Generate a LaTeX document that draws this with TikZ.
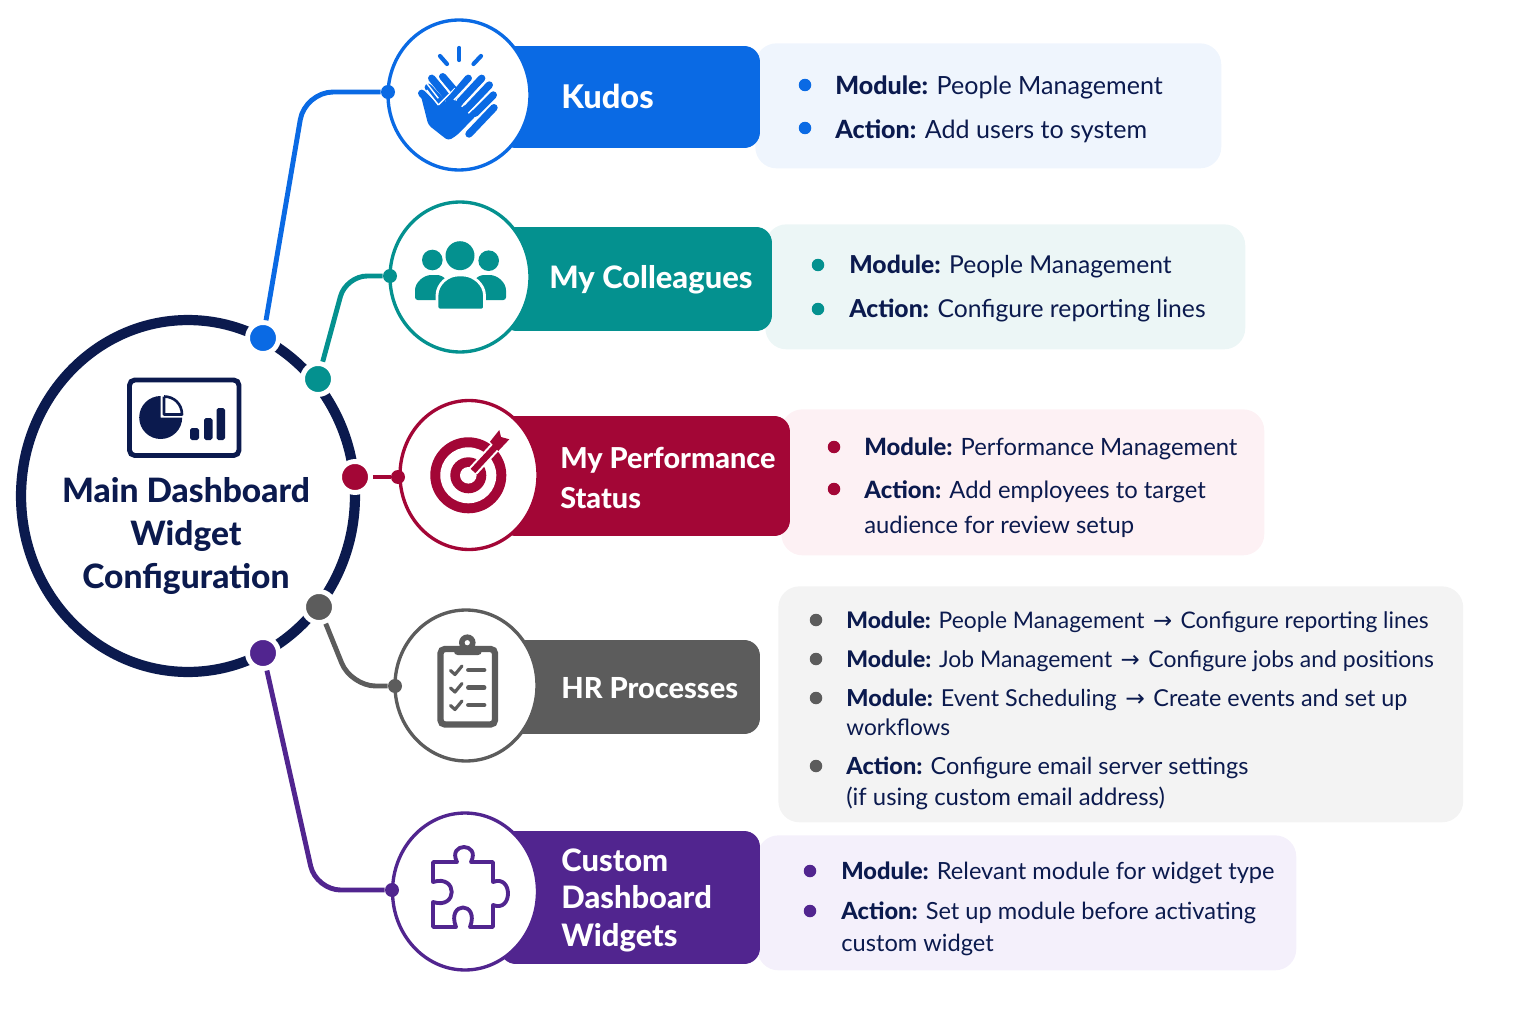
\documentclass[tikz,border=0pt]{standalone}
\usepackage{fontspec}
\setmainfont{Lato}[BoldFont={Lato Heavy}]
\newfontfamily\arrowfont{DejaVu Sans}
\usepackage{tikz}
\definecolor{hubnavy}{HTML}{0B1A4E}
\definecolor{kudosblue}{HTML}{0A6AE4}
\definecolor{colleagueteal}{HTML}{04918F}
\definecolor{perfcrimson}{HTML}{A30636}
\definecolor{hrgray}{HTML}{5C5C5C}
\definecolor{widgetpurple}{HTML}{51258F}
\definecolor{kudospanel}{HTML}{EFF5FD}
\definecolor{colleaguepanel}{HTML}{ECF6F6}
\definecolor{perfpanel}{HTML}{FDF1F4}
\definecolor{hrpanel}{HTML}{F3F3F3}
\definecolor{widgetpanel}{HTML}{F4F0FB}
\usetikzlibrary{shapes.geometric}
\newcommand{\rowarrow}{\hspace{1.5pt}{\arrowfont →}\hspace{1.5pt}}
\tikzset{
    hubring/.style={ellipse, draw=hubnavy, fill=white, line width=5.8pt, minimum width=6.68cm, minimum height=7.04cm, inner sep=0pt},
    hubtitle/.style={align=center, text=hubnavy, font=\fontsize{19.1}{24.5}\selectfont\bfseries},
    hubdot/.style={circle, draw=white, line width=2.8pt, inner sep=0pt, minimum size=0.62cm},
    tipdot/.style={circle, inner sep=0pt, minimum size=0.28cm},
    iconring/.style={ellipse, fill=white, line width=1.9pt, inner sep=0pt},
    barbox/.style={draw=none, rounded corners=9pt, minimum height=2cm},
    bartext/.style={anchor=base west, inner sep=0pt, text=white, font=\fontsize{#1}{21}\selectfont\bfseries},
    panelbox/.style={rounded corners=12pt, anchor=north west, inner sep=0pt},
    rowdot/.style={circle, inner sep=0pt, minimum size=0.25cm},
    rowtext/.style={anchor=base west, inner sep=0pt, text=hubnavy, font=\fontsize{#1}{16}\selectfont},
    linkline/.style={line width=2.8pt},
    fingerline/.style={line width=4.2pt, line cap=round},
    fingergap/.style={white, line width=0.8pt, line cap=butt}
}
\begin{document}
\begin{tikzpicture}[x=0.02cm, y=-0.02cm]
  \useasboundingbox (0,0) rectangle (1536,1024);
  % detail panels
  \node[panelbox, fill=kudospanel, minimum width=9.32cm, minimum height=2.5cm] (kudospanel) at (755,43) {};
  \node[panelbox, fill=colleaguepanel, minimum width=9.6cm, minimum height=2.5cm] (matespanel) at (765,224) {};
  \node[panelbox, fill=perfpanel, minimum width=9.66cm, minimum height=2.92cm] (perfpanel) at (781,409) {};
  \node[panelbox, fill=hrpanel, minimum width=13.7cm, minimum height=4.72cm] (hrpanel) at (778,586) {};
  \node[panelbox, fill=widgetpanel, minimum width=10.78cm, minimum height=2.7cm] (widgetpanel) at (757,835) {};
  % bars
  \node[barbox, fill=kudosblue, minimum width=5.2cm, minimum height=2.04cm] (kudosbar) at (630,97) {};
  \node[barbox, fill=colleagueteal, minimum width=5.42cm, minimum height=2.08cm] (matesbar) at (636.5,279) {};
  \node[barbox, fill=perfcrimson, minimum width=5.8cm, minimum height=2.4cm] (perfbar) at (645,476) {};
  \node[barbox, fill=hrgray, minimum width=5.2cm, minimum height=1.88cm] (hrbar) at (630,687) {};
  \node[barbox, fill=widgetpurple, minimum width=5.2cm, minimum height=2.66cm] (widgetbar) at (630,897.5) {};
  % hub
  \node[hubring] (hub) at (188,496) {};
  \node[hubdot, fill=kudosblue] (kudosdot) at (263,338) {};
  \node[hubdot, fill=colleagueteal] (matesdot) at (318,379) {};
  \node[hubdot, fill=perfcrimson] (perfdot) at (355,477) {};
  \node[hubdot, fill=hrgray] (hrdot) at (319,607) {};
  \node[hubdot, fill=widgetpurple] (widgetdot) at (263,653) {};
  \node[hubtitle] (hubtext) at (186,536) {Main Dashboard\\Widget\\Configuration};
  % icon rings
  \node[iconring, draw=kudosblue, minimum width=2.84cm, minimum height=3cm] (kudosring) at (459,95) {};
  \node[iconring, draw=colleagueteal, minimum width=2.8cm, minimum height=3cm] (matesring) at (460,277) {};
  \node[iconring, draw=perfcrimson, minimum width=2.76cm, minimum height=2.98cm] (perfring) at (469,475) {};
  \node[iconring, draw=hrgray, minimum width=2.84cm, minimum height=3.02cm] (hrring) at (466,685.5) {};
  \node[iconring, draw=widgetpurple, minimum width=2.9cm, minimum height=3.14cm] (widgetring) at (465,891.5) {};
  \node[tipdot, fill=kudosblue] (kudostip) at (388,92) {};
  \node[tipdot, fill=colleagueteal] (matestip) at (390,276) {};
  \node[tipdot, fill=perfcrimson] (perftip) at (398,477) {};
  \node[tipdot, fill=hrgray] (hrtip) at (395,686) {};
  \node[tipdot, fill=widgetpurple] (widgettip) at (392,890) {};
  % connectors
  \coordinate (kudosbend) at (305,92);
  \coordinate (matesbend) at (346,276);
  \coordinate (hrbend) at (351,686);
  \coordinate (widgetbend) at (316,890);
  \draw[linkline, kudosblue, rounded corners=16pt] (kudosdot) -- (kudosbend) -- (kudostip);
  \draw[linkline, colleagueteal, rounded corners=12pt] (matesdot) -- (matesbend) -- (matestip);
  \draw[linkline, perfcrimson] (perfdot) -- (perftip);
  \draw[linkline, hrgray, rounded corners=14pt] (hrdot) -- (hrbend) -- (hrtip);
  \draw[linkline, widgetpurple, rounded corners=14pt] (widgetdot) -- (widgetbend) -- (widgettip);
  % dashboard icon
  \draw[hubnavy, line width=2.8pt, rounded corners=3pt] (129.5,380) rectangle (239,455.5);
  \fill[hubnavy] (160.7,396) arc[start angle=90, end angle=360, x radius=21.5, y radius=-21.5] -- (160.7,417.7) -- cycle;
  \draw[hubnavy, line width=1.5pt, line join=round] (164,396.5) -- (164,414.5) -- (182,414.5) .. controls (182,404) and (174,396.5) .. (164,396.5);
  \fill[hubnavy, rounded corners=1pt] (190,428) rectangle (199,440);
  \fill[hubnavy, rounded corners=1pt] (204,418) rectangle (212.5,440);
  \fill[hubnavy, rounded corners=1pt] (216.5,408) rectangle (225,440);
  % clap icon
  \draw[kudosblue, line cap=round, line width=2.4pt] (459.3,48) -- (459.3,60);
  \draw[kudosblue, line cap=round, line width=2.4pt] (440,56) -- (447,64);
  \draw[kudosblue, line cap=round, line width=2.4pt] (481,56) -- (473.5,64);
  \draw[kudosblue, fingerline] (431.7,78.3) -- (448.3,98.3);
  \draw[kudosblue, fingerline] (442.7,76.7) -- (454,90);
  \draw[kudosblue, fingerline] (428.3,87.3) -- (441.7,101.7);
  \draw[kudosblue, fingerline] (421.7,93.3) -- (438.3,110);
  \draw[fingergap] (438.3,78.3) -- (450,93.3);
  \draw[fingergap] (426.7,83.3) -- (438.3,98.3);
  \fill[kudosblue, rounded corners=2pt] (420.7,95) -- (428.3,125) -- (448.3,140.7) -- (457.3,135) -- (478.3,113.3) -- (451.7,98.3) -- (438.3,105) -- cycle;
  \draw[fingergap] (438.3,105) -- (455,88.3);
  \draw[fingergap] (438.3,105) -- (426.7,90);
  \draw[kudosblue, fingerline] (468.3,78.3) -- (451.7,98.3);
  \draw[kudosblue, fingerline] (481.7,78.3) -- (460,101.7);
  \draw[kudosblue, fingerline] (489.3,85) -- (467.3,108.3);
  \draw[kudosblue, fingerline] (493.3,95) -- (475,113.3);
  \draw[fingergap] (454,100) -- (474.3,78.3);
  \draw[fingergap] (461.7,106.7) -- (485,81.7);
  \draw[fingergap] (468.3,113.3) -- (491.7,90);
  \draw[fingergap, line width=1pt] (461.7,136.7) -- (495,101.7);
  \draw[kudosblue, fingerline] (494,107.7) -- (469,134);
  % people icon
  \fill[colleagueteal] (460,255.7) circle[radius=14.5];
  \fill[colleagueteal] (432.3,260) circle[radius=10.3];
  \fill[colleagueteal] (488.7,260.7) circle[radius=10.3];
  \fill[colleagueteal, rounded corners=1.5pt] (415,300) -- (415,293) .. controls (415,282) and (424,275) .. (434,275) .. controls (444,275) and (450,282) .. (450,293) -- (450,300) -- cycle;
  \fill[colleagueteal, rounded corners=1.5pt] (506,300) -- (506,293) .. controls (506,282) and (497,275) .. (487,275) .. controls (477,275) and (471,282) .. (471,293) -- (471,300) -- cycle;
  \draw[white, fill=colleagueteal, line width=1.6pt, rounded corners=1.5pt] (437,310) -- (437,298) .. controls (437,284) and (448,275) .. (460.5,275) .. controls (473,275) and (484.5,284) .. (484.5,298) -- (484.5,310) -- cycle;
  % target icon
  \fill[perfcrimson] (468.3,475.3) circle[radius=38];
  \fill[white] (468.3,475.3) circle[radius=28];
  \fill[perfcrimson] (468.3,475.3) circle[radius=18];
  \fill[white] (468.3,475.3) circle[radius=8.3];
  \draw[white, line width=6pt] (473,471) -- (497,445);
  \draw[perfcrimson, line width=3.6pt] (473,471) -- (497,445);
  \fill[perfcrimson] (490,441.7) -- (499.3,430) -- (501,437) -- (509.3,439.3) -- (498.3,451) -- cycle;
  % clipboard icon
  \draw[hrgray, line width=3.6pt, rounded corners=2.5pt] (440.5,649) rectangle (495,724.5);
  \fill[hrgray] (467.3,642.7) circle[radius=8.3];
  \fill[hrgray, rounded corners=2pt] (454,646) rectangle (481.7,655);
  \fill[white] (467.3,642.7) circle[radius=2.6];
  \begin{scope}[hrgray, line cap=round, line join=round, line width=1.8pt]
    \draw (450.5,670.5) -- (455,674.5) -- (462,666);
    \draw (450.5,688) -- (455,692) -- (462,683.5);
    \draw (450.5,705.5) -- (455,709.5) -- (462,701);
    \draw[line width=2.8pt] (468.5,670) -- (484,670);
    \draw[line width=2.8pt] (468.5,687.7) -- (484,687.7);
    \draw[line width=2.8pt] (468.5,705) -- (484,705);
  \end{scope}
  % puzzle icon
  \draw[widgetpurple, line width=2.2pt, line join=round] (433,862) -- (457,862) .. controls (447,842) and (481,842) .. (471,862) -- (493,862) -- (493,882) .. controls (513,874) and (513,913) .. (493,905) -- (493,927) -- (470,927) .. controls (480,901) and (446,901) .. (456,927) -- (433,927) -- (433,902) .. controls (458,910) and (458,874) .. (433,882) -- cycle;
  % bar labels
  \node[bartext=18.6] (kudoslabel) at (561,108.5) {Kudos};
  \node[bartext=17.6] (mateslabel) at (549,288.5) {My Colleagues};
  \node[bartext=16.4] (perflabelA) at (560,468.5) {My Performance};
  \node[bartext=16.4] (perflabelB) at (560,508) {Status};
  \node[bartext=16.5] (hrlabel) at (561,698) {HR Processes};
  \node[bartext=17.6] (widgetlabelA) at (561,871) {Custom};
  \node[bartext=17.6] (widgetlabelB) at (561,908) {Dashboard};
  \node[bartext=17.6] (widgetlabelC) at (561,946) {Widgets};
  % kudos rows
  \node[rowdot, fill=kudosblue] (kudosrowA) at (805,85) {};
  \node[rowdot, fill=kudosblue] (kudosrowB) at (805,128) {};
  \node[rowtext=14.27] (kudostextA) at (835,94.5) {\textbf{Module:} People Management};
  \node[rowtext=14.27] (kudostextB) at (835,138.5) {\textbf{Action:} Add users to system};
  % colleague rows
  \node[rowdot, fill=colleagueteal] (matesrowA) at (818,265) {};
  \node[rowdot, fill=colleagueteal] (matesrowB) at (818,309) {};
  \node[rowtext=14.05] (matestextA) at (849,274) {\textbf{Module:} People Management};
  \node[rowtext=14.05] (matestextB) at (849,317.5) {\textbf{Action:} Configure reporting lines};
  % performance rows
  \node[rowdot, fill=perfcrimson] (perfrowA) at (834,447) {};
  \node[rowdot, fill=perfcrimson] (perfrowB) at (834,489) {};
  \node[rowtext=13.55] (perftextA) at (864,455) {\textbf{Module:} Performance Management};
  \node[rowtext=13.55] (perftextB) at (864,498) {\textbf{Action:} Add employees to target};
  \node[rowtext=13.55] (perftextC) at (864,533) {audience for review setup};
  % hr rows
  \node[rowdot, fill=hrgray] (hrrowA) at (816,620) {};
  \node[rowdot, fill=hrgray] (hrrowB) at (816,659) {};
  \node[rowdot, fill=hrgray] (hrrowC) at (816,698) {};
  \node[rowdot, fill=hrgray] (hrrowD) at (816,766) {};
  \node[rowtext=13] (hrtextA) at (846,628) {\textbf{Module:} People Management \rowarrow\ Configure reporting lines};
  \node[rowtext=13.05] (hrtextB) at (846,667) {\textbf{Module:} Job Management \rowarrow\ Configure jobs and positions};
  \node[rowtext=13.3] (hrtextC) at (846,706) {\textbf{Module:} Event Scheduling \rowarrow\ Create events and set up};
  \node[rowtext=12.9] (hrtextD) at (846,735) {workflows};
  \node[rowtext=13.4] (hrtextE) at (846,774.5) {\textbf{Action:} Configure email server settings};
  \node[rowtext=13.6] (hrtextF) at (846,805.5) {(if using custom email address)};
  % widget rows
  \node[rowdot, fill=widgetpurple] (widgetrowA) at (810,871) {};
  \node[rowdot, fill=widgetpurple] (widgetrowB) at (810,911) {};
  \node[rowtext=13.45] (widgettextA) at (841,879) {\textbf{Module:} Relevant module for widget type};
  \node[rowtext=13.45] (widgettextB) at (841,919) {\textbf{Action:} Set up module before activating};
  \node[rowtext=13.45] (widgettextC) at (841,951) {custom widget};
\end{tikzpicture}
\end{document}
